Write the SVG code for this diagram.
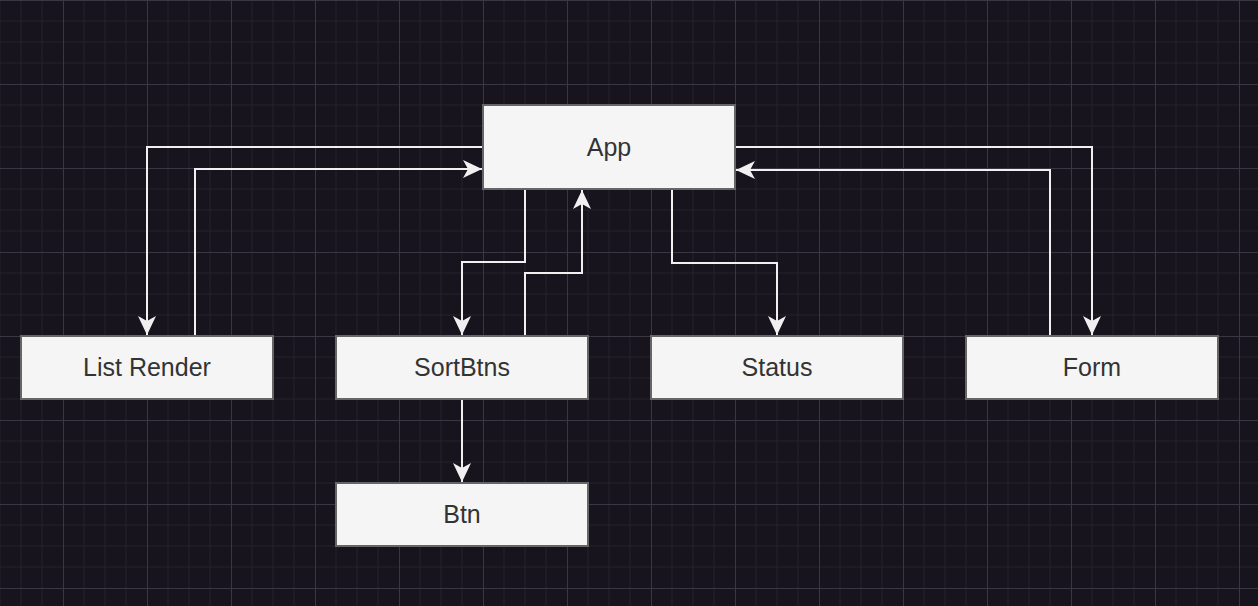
<svg xmlns="http://www.w3.org/2000/svg" width="1258" height="606" viewBox="0 0 1258 606">
  <defs>
    <pattern id="grid" x="63" y="0" width="84" height="84" patternUnits="userSpaceOnUse">
      <path d="M21 0V84M42 0V84M63 0V84M0 21H84M0 42H84M0 63H84" fill="none" stroke="#25212b" stroke-width="1"/>
      <path d="M0.5 0V84M0 0.5H84" fill="none" stroke="#3b3742" stroke-width="1"/>
    </pattern>
    <marker id="arrow" markerUnits="userSpaceOnUse" markerWidth="20" markerHeight="18" refX="19" refY="9" orient="auto" viewBox="0 0 20 18">
      <path d="M19 9L0 0L5 9L0 18Z" fill="#f0f0f0"/>
    </marker>
    <style>
      .box { fill: #f5f5f5; stroke: #666666; stroke-width: 2; }
      .label { font-family: "Liberation Sans", Arial, sans-serif; font-size: 25px; fill: #333333; text-anchor: middle; }
      .edge { fill: none; stroke: #f0f0f0; stroke-width: 2; marker-end: url(#arrow); }
    </style>
  </defs>
  <rect width="1258" height="606" fill="#18141d"/>
  <rect width="1258" height="606" fill="url(#grid)"/>

  <g id="connectors">
    <path class="edge" d="M483 147H147V335"/>
    <path class="edge" d="M195 336V169H482"/>
    <path class="edge" d="M525 189V262H462V335"/>
    <path class="edge" d="M525 336V273H582V190"/>
    <path class="edge" d="M462 399V482"/>
    <path class="edge" d="M672 189V263H777V335"/>
    <path class="edge" d="M735 147H1092V335"/>
    <path class="edge" d="M1050 336V170H736"/>
  </g>

  <g id="app">
    <rect class="box" x="483" y="105" width="252" height="84"/>
    <text class="label" x="609" y="156">App</text>
  </g>
  <g id="list-render">
    <rect class="box" x="21" y="336" width="252" height="63"/>
    <text class="label" x="147" y="376">List Render</text>
  </g>
  <g id="sortbtns">
    <rect class="box" x="336" y="336" width="252" height="63"/>
    <text class="label" x="462" y="376">SortBtns</text>
  </g>
  <g id="status">
    <rect class="box" x="651" y="336" width="252" height="63"/>
    <text class="label" x="777" y="376">Status</text>
  </g>
  <g id="form">
    <rect class="box" x="966" y="336" width="252" height="63"/>
    <text class="label" x="1092" y="376">Form</text>
  </g>
  <g id="btn">
    <rect class="box" x="336" y="483" width="252" height="63"/>
    <text class="label" x="462" y="523">Btn</text>
  </g>
</svg>
